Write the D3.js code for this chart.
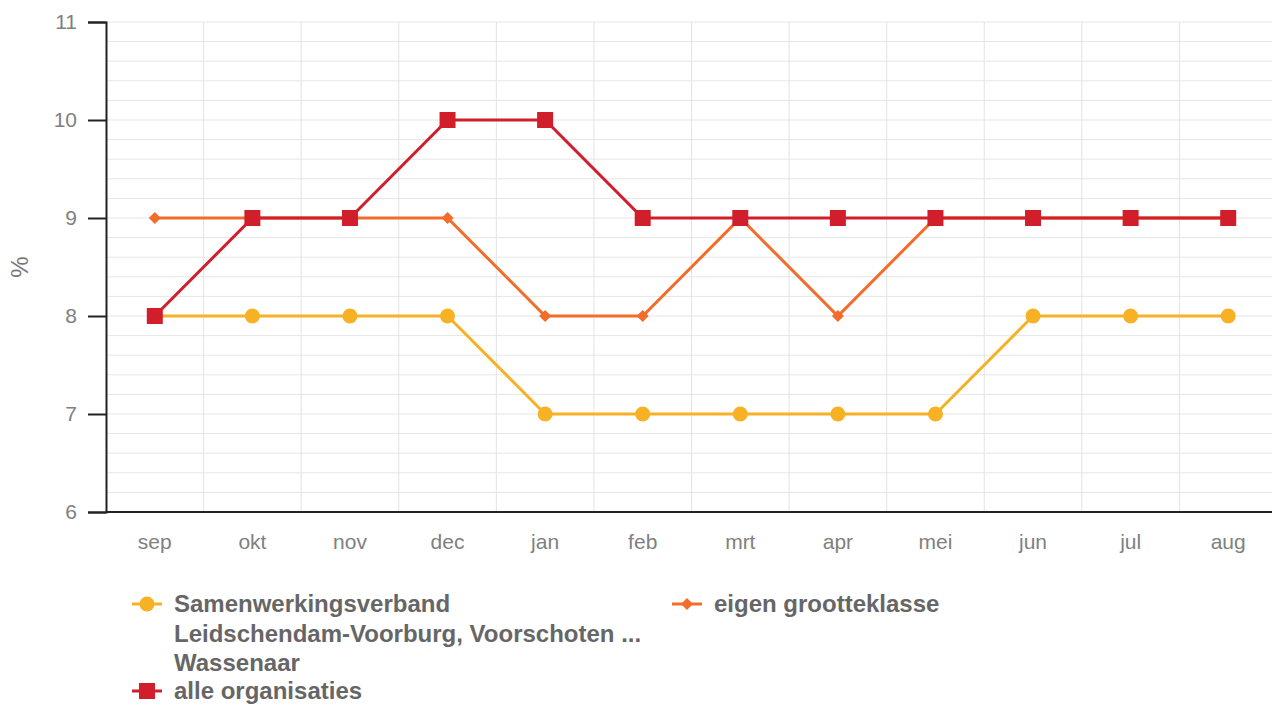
<!DOCTYPE html>
<html>
<head>
<meta charset="utf-8">
<script src="https://cdn.jsdelivr.net/npm/d3@7"></script>
<style>
  html, body { margin: 0; padding: 0; background: #fff; }
  svg { display: block; font-family: "Liberation Sans", Arial, sans-serif; }
</style>
</head>
<body>
<svg id="chart" width="1272" height="705"></svg>
<script>
// Months shown on the x axis
const months = ["sep", "okt", "nov", "dec", "jan", "feb", "mrt", "apr", "mei", "jun", "jul", "aug"];

// Percentages per series
const samenwerkingsverband = [8, 8, 8, 8, 7, 7, 7, 7, 7, 8, 8, 8];
const eigenGrootteklasse   = [9, 9, 9, 9, 8, 8, 9, 8, 9, 9, 9, 9];
const alleOrganisaties     = [8, 9, 9, 10, 10, 9, 9, 9, 9, 9, 9, 9];

const yTicks = [6, 7, 8, 9, 10, 11];

const seriesNames = [
  ["Samenwerkingsverband", "Leidschendam-Voorburg, Voorschoten ...", "Wassenaar"],
  ["eigen grootteklasse"],
  ["alle organisaties"]
];

const colors = ["#f7b125", "#f26c2a", "#d01f2b"];

const svg = d3.select("#chart");
const plotLeft = 106, plotRight = 1277, plotTop = 22, plotBottom = 512;

const x = d3.scaleBand().domain(months).range([plotLeft, plotRight]);
const y = d3.scaleLinear().domain([6, 11]).range([plotBottom, plotTop]);

// Grid: minor every 0.2, major on integer ticks
const gridG = svg.append("g");
const minor = d3.range(6, 11.0001, 0.2);
gridG.selectAll("line.h").data(minor).join("line")
  .attr("x1", plotLeft).attr("x2", plotRight)
  .attr("y1", d => y(d)).attr("y2", d => y(d))
  .attr("stroke", "#e6e6e6").attr("stroke-width", 1);
gridG.selectAll("line.v").data(months.slice(1)).join("line")
  .attr("x1", d => x(d)).attr("x2", d => x(d))
  .attr("y1", plotTop).attr("y2", plotBottom)
  .attr("stroke", "#e3e3e3").attr("stroke-width", 1);

// Y axis
const yAxis = svg.append("g")
  .attr("transform", `translate(${plotLeft},0)`)
  .call(d3.axisLeft(y).tickValues(yTicks).tickFormat(d3.format("d")).tickSize(18).tickPadding(11));
yAxis.select(".domain").attr("stroke", "#222").attr("stroke-width", 2);
yAxis.selectAll(".tick line").attr("stroke", "#222").attr("stroke-width", 2);
yAxis.selectAll(".tick text").attr("fill", "#808080").style("font-size", "21px");

// X axis
const xAxis = svg.append("g")
  .attr("transform", `translate(0,${plotBottom})`)
  .call(d3.axisBottom(x).tickSize(0).tickPadding(22));
xAxis.select(".domain").attr("stroke", "#222").attr("stroke-width", 2)
  .attr("d", `M${plotLeft},0H${plotRight}`);
xAxis.selectAll(".tick text").attr("fill", "#808080").style("font-size", "21px");

// Y axis title
svg.append("text")
  .attr("transform", "translate(20,267) rotate(-90)")
  .attr("text-anchor", "middle")
  .attr("dy", "0.35em")
  .attr("fill", "#777")
  .style("font-size", "24px")
  .text("%");

const cx = d => x(d) + x.bandwidth() / 2;
const line = d3.line().x(d => cx(d.m)).y(d => y(d.v));
const toPts = arr => arr.map((v, i) => ({ m: months[i], v }));

const allSeries = [samenwerkingsverband, eigenGrootteklasse, alleOrganisaties];

function drawMarker(g, type, color) {
  if (type === 0) {
    g.append("circle").attr("r", 7.5).attr("fill", color);
  } else if (type === 1) {
    g.append("path").attr("d", "M0,-6L6,0L0,6L-6,0Z").attr("fill", color);
  } else {
    g.append("rect").attr("x", -8).attr("y", -8).attr("width", 16).attr("height", 16).attr("fill", color);
  }
}

allSeries.forEach((vals, si) => {
  const pts = toPts(vals);
  const g = svg.append("g");
  g.append("path").datum(pts)
    .attr("d", line)
    .attr("fill", "none")
    .attr("stroke", colors[si])
    .attr("stroke-width", 3);
  pts.forEach(p => {
    const mg = g.append("g").attr("transform", `translate(${cx(p.m)},${y(p.v)})`);
    drawMarker(mg, si, colors[si]);
  });
});

// Legend
const legendPos = [[132, 604], [672, 604], [132, 691]];
seriesNames.forEach((lines, si) => {
  const [lx, ly] = legendPos[si];
  const g = svg.append("g").attr("transform", `translate(${lx},${ly})`);
  g.append("line").attr("x1", 0).attr("x2", 30).attr("y1", 0).attr("y2", 0)
    .attr("stroke", colors[si]).attr("stroke-width", 3);
  const mg = g.append("g").attr("transform", "translate(15,0)");
  drawMarker(mg, si, colors[si]);
  const t = g.append("text")
    .attr("x", 42).attr("y", 0)
    .attr("fill", "#666")
    .style("font-size", "24px")
    .style("font-weight", "bold");
  lines.forEach((s, i) => {
    t.append("tspan").attr("x", 42).attr("dy", i === 0 ? "0.35em" : "29.5px").text(s);
  });
});
</script>
</body>
</html>
